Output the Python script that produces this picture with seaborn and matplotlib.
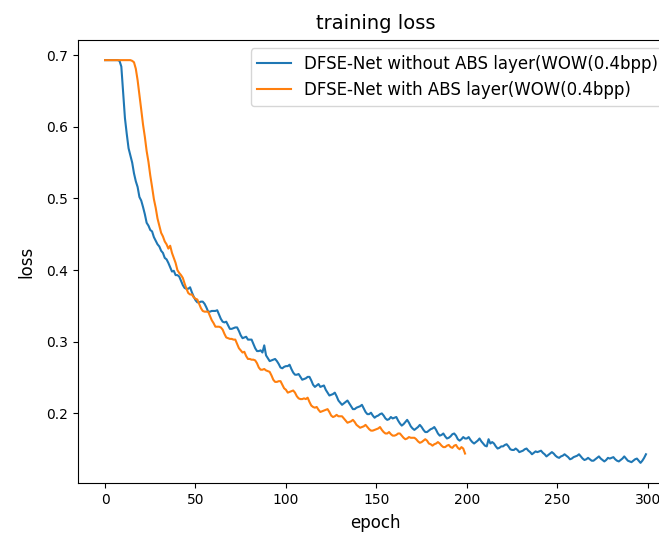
import matplotlib
matplotlib.use("Agg")
from matplotlib import pyplot as plt
import pandas as pd
import seaborn as sns

# loss per epoch
loss_without_abs = [
    0.693, 0.693, 0.693, 0.693, 0.693, 0.693, 0.693, 0.693, 0.692, 0.684,
    0.648, 0.612, 0.590, 0.570, 0.560, 0.550, 0.535, 0.524, 0.516, 0.502,
    0.497, 0.488, 0.478, 0.466, 0.462, 0.456, 0.454, 0.446, 0.441, 0.436,
    0.433, 0.427, 0.424, 0.417, 0.415, 0.410, 0.404, 0.398, 0.399, 0.393,
    0.393, 0.391, 0.385, 0.379, 0.375, 0.374, 0.374, 0.376, 0.369, 0.363,
    0.358, 0.355, 0.355, 0.356, 0.356, 0.353, 0.348, 0.342, 0.342, 0.343,
    0.343, 0.343, 0.344, 0.338, 0.332, 0.328, 0.327, 0.328, 0.323, 0.318,
    0.318, 0.319, 0.320, 0.320, 0.315, 0.309, 0.305, 0.306, 0.307, 0.303,
    0.303, 0.303, 0.297, 0.291, 0.287, 0.287, 0.288, 0.285, 0.295, 0.281,
    0.277, 0.273, 0.274, 0.275, 0.276, 0.273, 0.269, 0.264, 0.263, 0.265,
    0.266, 0.266, 0.268, 0.262, 0.257, 0.254, 0.254, 0.255, 0.251, 0.247,
    0.248, 0.249, 0.251, 0.251, 0.246, 0.240, 0.237, 0.239, 0.241, 0.237,
    0.238, 0.239, 0.233, 0.229, 0.225, 0.226, 0.227, 0.229, 0.224, 0.218,
    0.215, 0.212, 0.214, 0.216, 0.218, 0.214, 0.210, 0.206, 0.206, 0.208,
    0.209, 0.210, 0.212, 0.207, 0.202, 0.199, 0.199, 0.201, 0.197, 0.194,
    0.196, 0.197, 0.199, 0.200, 0.197, 0.193, 0.191, 0.192, 0.195, 0.193,
    0.194, 0.195, 0.190, 0.186, 0.183, 0.185, 0.188, 0.191, 0.187, 0.182,
    0.179, 0.177, 0.179, 0.181, 0.184, 0.181, 0.177, 0.174, 0.174, 0.176,
    0.178, 0.179, 0.181, 0.177, 0.172, 0.169, 0.170, 0.172, 0.168, 0.165,
    0.166, 0.168, 0.171, 0.172, 0.169, 0.164, 0.162, 0.164, 0.167, 0.165,
    0.165, 0.167, 0.163, 0.160, 0.158, 0.160, 0.162, 0.165, 0.161, 0.158,
    0.155, 0.154, 0.164, 0.158, 0.160, 0.158, 0.154, 0.151, 0.152, 0.154,
    0.154, 0.156, 0.157, 0.154, 0.150, 0.149, 0.149, 0.151, 0.149, 0.146,
    0.147, 0.148, 0.150, 0.151, 0.148, 0.146, 0.143, 0.145, 0.147, 0.146,
    0.147, 0.148, 0.145, 0.143, 0.140, 0.142, 0.144, 0.146, 0.144, 0.141,
    0.139, 0.138, 0.140, 0.141, 0.143, 0.141, 0.139, 0.136, 0.137, 0.139,
    0.140, 0.141, 0.143, 0.140, 0.137, 0.135, 0.136, 0.138, 0.136, 0.134,
    0.134, 0.136, 0.138, 0.140, 0.137, 0.135, 0.133, 0.135, 0.138, 0.137,
    0.138, 0.139, 0.136, 0.134, 0.133, 0.135, 0.137, 0.140, 0.137, 0.134,
    0.133, 0.132, 0.134, 0.136, 0.137, 0.134, 0.131, 0.134, 0.138, 0.143,
]
loss_with_abs = [
    0.693, 0.693, 0.693, 0.693, 0.693, 0.693, 0.693, 0.693, 0.693, 0.693,
    0.693, 0.693, 0.693, 0.693, 0.693, 0.692, 0.690, 0.681, 0.665, 0.645,
    0.624, 0.603, 0.586, 0.566, 0.551, 0.532, 0.516, 0.499, 0.487, 0.472,
    0.462, 0.452, 0.447, 0.440, 0.436, 0.430, 0.434, 0.424, 0.417, 0.410,
    0.400, 0.396, 0.393, 0.389, 0.381, 0.374, 0.368, 0.366, 0.366, 0.362,
    0.360, 0.359, 0.353, 0.347, 0.343, 0.342, 0.342, 0.342, 0.336, 0.330,
    0.326, 0.321, 0.321, 0.321, 0.320, 0.317, 0.311, 0.306, 0.305, 0.304,
    0.304, 0.303, 0.303, 0.297, 0.291, 0.288, 0.285, 0.286, 0.280, 0.276,
    0.276, 0.275, 0.275, 0.274, 0.270, 0.264, 0.261, 0.261, 0.262, 0.260,
    0.259, 0.258, 0.253, 0.247, 0.244, 0.244, 0.245, 0.245, 0.240, 0.235,
    0.233, 0.229, 0.230, 0.231, 0.232, 0.229, 0.224, 0.221, 0.220, 0.220,
    0.221, 0.220, 0.222, 0.216, 0.211, 0.209, 0.208, 0.209, 0.205, 0.202,
    0.203, 0.204, 0.205, 0.206, 0.202, 0.197, 0.195, 0.196, 0.198, 0.196,
    0.196, 0.196, 0.193, 0.190, 0.187, 0.188, 0.189, 0.191, 0.188, 0.184,
    0.182, 0.180, 0.181, 0.182, 0.184, 0.181, 0.178, 0.176, 0.176, 0.177,
    0.178, 0.179, 0.181, 0.177, 0.174, 0.172, 0.172, 0.174, 0.171, 0.169,
    0.169, 0.170, 0.172, 0.172, 0.169, 0.166, 0.164, 0.165, 0.167, 0.166,
    0.166, 0.166, 0.164, 0.161, 0.159, 0.160, 0.162, 0.164, 0.162, 0.158,
    0.157, 0.155, 0.157, 0.158, 0.160, 0.158, 0.155, 0.153, 0.153, 0.155,
    0.156, 0.153, 0.152, 0.155, 0.156, 0.152, 0.150, 0.153, 0.151, 0.144,
]
label_without = 'DFSE-Net without ABS layer(WOW(0.4bpp)'
label_with = 'DFSE-Net with ABS layer(WOW(0.4bpp)'

df1 = pd.DataFrame({'epoch': range(len(loss_without_abs)), 'loss': loss_without_abs})
df2 = pd.DataFrame({'epoch': range(len(loss_with_abs)), 'loss': loss_with_abs})

plt.rcParams['font.family'] = ['DejaVu Sans']
fig = plt.figure(figsize=(6.59, 5.34), dpi=100)
# axes run a bit past the right edge, like the cropped original
ax = fig.add_axes([78 / 659, 51 / 534, 595 / 659, 443 / 534])
sns.lineplot(data=df1, x='epoch', y='loss', ax=ax, color='#1f77b4', linewidth=1.5, label=label_without)
sns.lineplot(data=df2, x='epoch', y='loss', ax=ax, color='#ff7f0e', linewidth=1.5, label=label_with)
ax.set_title('training loss', fontsize=14, pad=8)
ax.set_xlabel('epoch', fontsize=12, labelpad=5)
ax.set_ylabel('loss', fontsize=12, labelpad=8)
ax.legend(loc='upper right', fontsize=12)
fig.savefig('out.png', dpi=100)
